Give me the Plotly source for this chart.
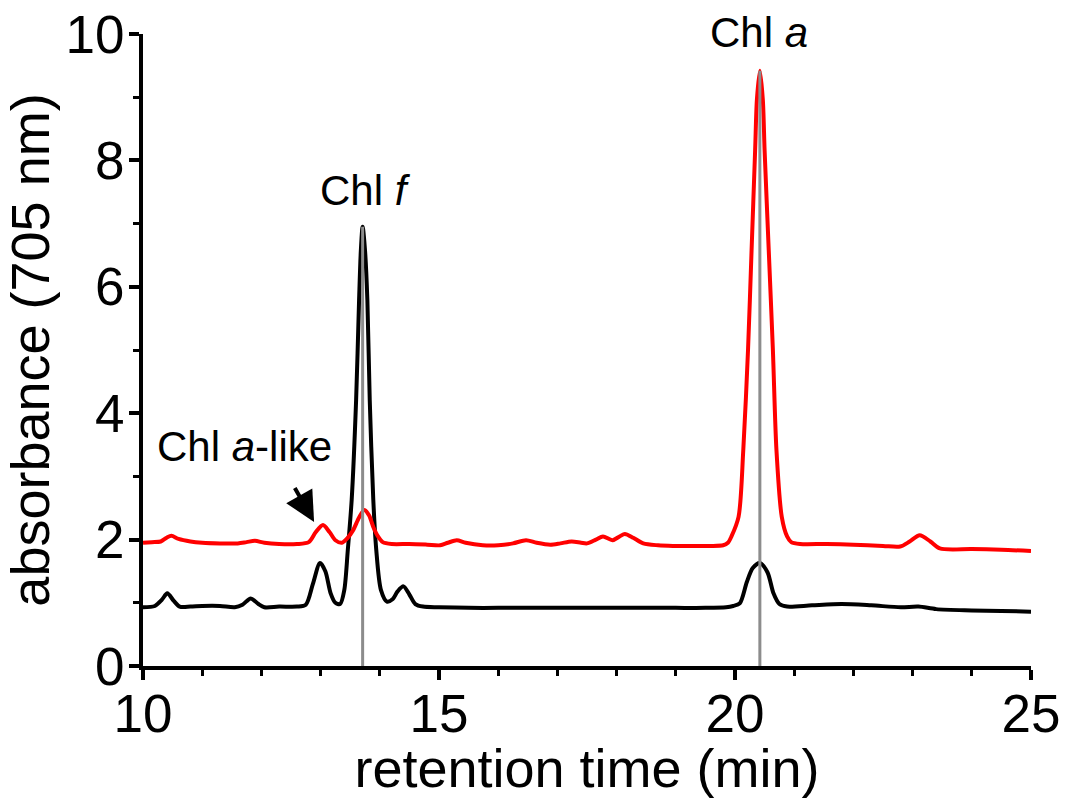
import plotly.graph_objects as go

# ---- data ----
black_t = [10.00, 10.20, 10.32, 10.41, 10.52, 10.62, 10.80, 11.00, 11.30, 11.55, 11.68, 11.82, 11.95,
           12.05, 12.30, 12.60, 12.75, 12.87, 12.99, 13.08, 13.17, 13.25, 13.33, 13.40, 13.46, 13.525,
           13.60, 13.65, 13.68, 13.71, 13.75, 13.79, 13.83, 13.89, 13.94, 14.02, 14.12, 14.22, 14.30,
           14.40, 14.50, 14.60, 14.73, 15.00, 15.50, 16.00, 16.50, 17.00, 17.50, 18.00, 18.50, 19.00,
           19.50, 19.85, 19.97, 20.08, 20.20, 20.30, 20.42, 20.55, 20.65, 20.75, 20.88, 21.30, 21.80,
           22.30, 22.80, 23.10, 23.40, 24.00, 24.50, 25.00]
black_a = [0.93, 0.95, 1.05, 1.15, 1.03, 0.94, 0.94, 0.95, 0.95, 0.93, 0.97, 1.07, 0.98,
           0.93, 0.94, 0.94, 0.97, 1.30, 1.63, 1.50, 1.15, 1.00, 0.98, 1.20, 1.84, 2.63,
           4.21, 5.79, 6.58, 6.95, 6.58, 5.79, 4.21, 2.63, 1.84, 1.20, 1.02, 1.06, 1.18,
           1.26, 1.13, 0.98, 0.94, 0.93, 0.92, 0.92, 0.92, 0.92, 0.92, 0.92, 0.92, 0.92,
           0.92, 0.93, 0.95, 0.99, 1.33, 1.55, 1.63, 1.48, 1.15, 0.98, 0.94, 0.96, 0.98,
           0.96, 0.93, 0.94, 0.90, 0.88, 0.87, 0.86]

red_t = [10.00, 10.15, 10.30, 10.40, 10.48, 10.60, 10.80, 11.00, 11.30, 11.60, 11.75, 11.89, 12.05,
         12.30, 12.60, 12.80, 12.92, 13.04, 13.15, 13.25, 13.36, 13.45, 13.55, 13.65, 13.74, 13.82,
         13.89, 13.97, 14.05, 14.20, 14.50, 14.80, 15.02, 15.15, 15.30, 15.45, 15.74, 16.00, 16.25,
         16.47, 16.65, 16.88, 17.05, 17.24, 17.40, 17.50, 17.65, 17.77, 17.93, 18.05, 18.14, 18.28,
         18.45, 18.70, 18.95, 19.30, 19.58, 19.80, 19.88, 19.94, 20.06, 20.14, 20.22, 20.28, 20.34,
         20.37, 20.42, 20.47, 20.50, 20.57, 20.64, 20.70, 20.79, 20.88, 20.95, 21.10, 21.55, 22.00,
         22.50, 22.79, 22.95, 23.12, 23.30, 23.46, 24.00, 24.50, 25.00]
red_a = [1.95, 1.96, 1.97, 2.03, 2.06, 2.01, 1.97, 1.95, 1.94, 1.94, 1.96, 1.98, 1.95,
         1.93, 1.93, 1.96, 2.12, 2.23, 2.12, 1.99, 1.95, 2.02, 2.15, 2.35, 2.47, 2.38,
         2.20, 2.05, 1.96, 1.93, 1.93, 1.92, 1.91, 1.95, 1.99, 1.95, 1.91, 1.91, 1.94,
         1.99, 1.95, 1.92, 1.94, 1.97, 1.95, 1.94, 2.00, 2.05, 1.99, 2.05, 2.09, 2.03,
         1.94, 1.91, 1.90, 1.90, 1.90, 1.91, 1.95, 2.05, 2.36, 3.42, 5.00, 6.58, 8.16,
         8.96, 9.42, 8.96, 8.16, 6.58, 5.00, 3.42, 2.36, 2.05, 1.96, 1.93, 1.93, 1.92,
         1.90, 1.89, 1.97, 2.07, 1.97, 1.86, 1.85, 1.84, 1.82]

peak_times = [13.71, 20.42]
peak_tops = [6.95, 9.42]

x_ticks = [10, 15, 20, 25]
y_ticks = [0, 2, 4, 6, 8, 10]

FONT = "Liberation Sans, Arial, sans-serif"

fig = go.Figure()
fig.add_trace(go.Scatter(x=black_t, y=black_a, mode="lines",
                         line=dict(color="black", width=4, shape="spline", smoothing=0.8),
                         showlegend=False, hoverinfo="skip", cliponaxis=False))
fig.add_trace(go.Scatter(x=red_t, y=red_a, mode="lines",
                         line=dict(color="#ff0000", width=4, shape="spline", smoothing=0.8),
                         showlegend=False, hoverinfo="skip", cliponaxis=False))

# grey marker lines from baseline to each main peak
gx, gy = [], []
for t, h in zip(peak_times, peak_tops):
    gx += [t, t, None]
    gy += [0, h, None]
fig.add_trace(go.Scatter(x=gx, y=gy, mode="lines",
                         line=dict(color="#8c8c8c", width=3),
                         showlegend=False, hoverinfo="skip"))

ann_font = dict(family=FONT, size=42, color="black")
fig.add_annotation(x=11.72, y=3.47, text="Chl <i>a</i>-like", showarrow=False, font=ann_font,
                   yanchor="middle")
fig.add_annotation(x=13.75, y=7.53, text="Chl <i>f</i>", showarrow=False, font=ann_font,
                   yanchor="middle")
fig.add_annotation(x=20.40, y=1.002, yref="paper", text="Chl <i>a</i>", showarrow=False, font=ann_font,
                   yanchor="middle")
fig.add_annotation(x=12.89, y=2.28, ax=12.55, ay=2.84, axref="x", ayref="y", xref="x", yref="y",
                   text="", showarrow=True, arrowhead=2, arrowsize=1.5, arrowwidth=4,
                   arrowcolor="black")

axis_common = dict(
    showline=True, linecolor="black", linewidth=4,
    ticks="outside", ticklen=10, tickwidth=4, tickcolor="black",
    showgrid=False, zeroline=False, mirror=False, automargin=False,
    tickfont=dict(family=FONT, size=53, color="black"),
)

fig.update_xaxes(range=[10, 25], tickvals=x_ticks, ticktext=[str(v) for v in x_ticks],
                 ticklabelstandoff=-12,
                 minor=dict(dtick=1, tick0=10, ticks="outside", ticklen=6, tickwidth=3,
                            tickcolor="black", showgrid=False),
                 title=dict(text="retention time (min)", font=dict(family=FONT, size=54, color="black"),
                            standoff=0),
                 **axis_common)
fig.update_yaxes(range=[0, 10], tickvals=y_ticks, ticktext=[str(v) for v in y_ticks],
                 ticklabelstandoff=-6,
                 minor=dict(dtick=1, tick0=0, ticks="outside", ticklen=6, tickwidth=3,
                            tickcolor="black", showgrid=False),
                 title=dict(text="absorbance (705 nm)", font=dict(family=FONT, size=54, color="black"),
                            standoff=0),
                 **axis_common)

fig.update_layout(width=1065, height=798, margin=dict(l=143, r=34, t=34, b=132),
                  plot_bgcolor="white", paper_bgcolor="white")

fig.write_html("out.html")
